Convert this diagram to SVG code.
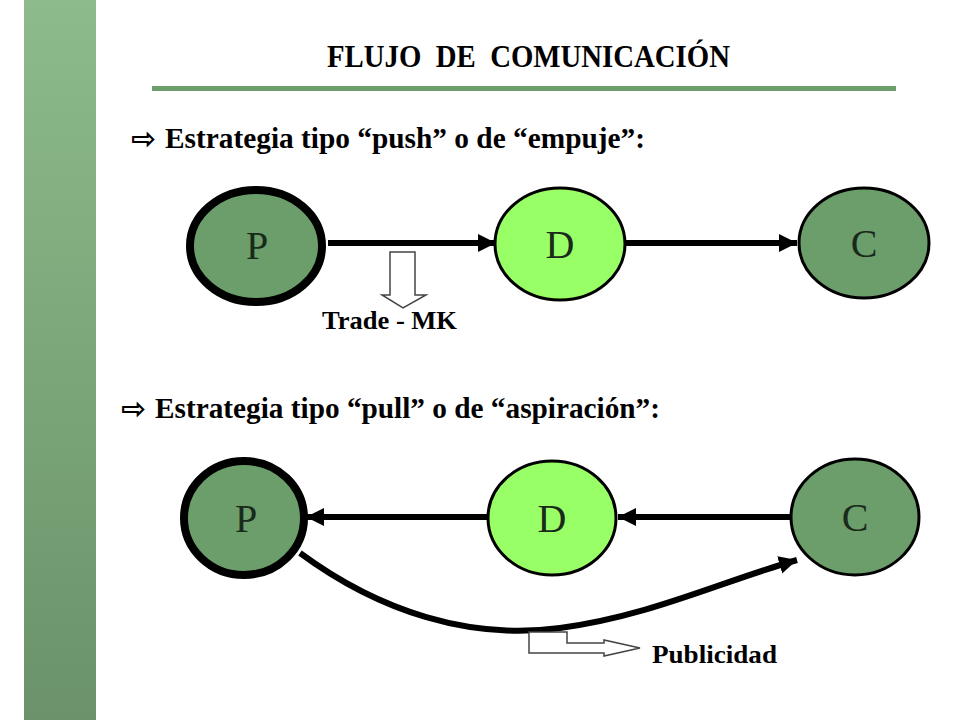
<svg xmlns="http://www.w3.org/2000/svg" width="960" height="720" viewBox="0 0 960 720">
<defs>
<linearGradient id="bar" x1="0" y1="0" x2="0" y2="1">
<stop offset="0" stop-color="#8dbb8b"/>
<stop offset="1" stop-color="#6b926a"/>
</linearGradient>
<marker id="ah" markerUnits="userSpaceOnUse" markerWidth="20" markerHeight="20" refX="18" refY="9" orient="auto">
<path d="M0,0 L18,9 L0,18 z" fill="#000"/>
</marker>
<style>
.t{font-family:"Liberation Serif","Times New Roman",serif;font-weight:bold;fill:#000}
.sym{font-family:"DejaVu Sans",sans-serif;font-size:30px;font-weight:bold;fill:#000}
.node{font-family:"Liberation Serif","Times New Roman",serif;font-size:40px;fill:#1a2a1a;text-anchor:middle}
.dk{fill:#6b9e6b;stroke:#000;stroke-width:3}
.dkb{fill:#6b9e6b;stroke:#000;stroke-width:8}
.lt{fill:#99ff66;stroke:#000;stroke-width:3}
.c{stroke:#000;stroke-width:6;fill:none;marker-end:url(#ah)}
.hollow{fill:#fff;stroke:#444;stroke-width:1.5}
</style>
</defs>
<rect width="960" height="720" fill="#fff"/>
<rect x="24" y="0" width="72" height="720" fill="url(#bar)"/>
<text class="t" x="327" y="67" font-size="31" textLength="403" lengthAdjust="spacingAndGlyphs" style="white-space:pre">FLUJO  DE  COMUNICACIÓN</text>
<rect x="152" y="86" width="744" height="5" fill="#6b9e6b"/>

<text class="sym" x="131" y="149">⇨</text>
<text class="t" x="165" y="148" font-size="29" textLength="480" lengthAdjust="spacingAndGlyphs">Estrategia tipo “push” o de “empuje”:</text>

<text class="sym" x="121" y="419">⇨</text>
<text class="t" x="155" y="418" font-size="29" textLength="505" lengthAdjust="spacingAndGlyphs">Estrategia tipo “pull” o de “aspiración”:</text>

<g id="connectors">
<line class="c" x1="328" y1="243" x2="496" y2="243"/>
<line class="c" x1="626" y1="243" x2="797" y2="243"/>
<line class="c" x1="790" y1="517" x2="618" y2="517"/>
<line class="c" x1="487" y1="517" x2="306" y2="517"/>
<path class="c" d="M300,553 C380,612 470,640 560,628 C650,616 720,582 797,560"/>
</g>

<g id="trade-mk">
<path class="hollow" d="M390,252 L415,252 L415,295 L426,295 L403,308 L382,295 L390,295 Z"/>
<text class="t" x="322" y="329" font-size="25" textLength="135" lengthAdjust="spacingAndGlyphs">Trade - MK</text>
</g>

<g id="publicidad">
<path class="hollow" d="M529,632 L567,632 L567,643 L604,643 L604,640 L640,648 L604,656 L604,653 L529,653 Z"/>
<text class="t" x="652" y="663" font-size="25" textLength="125" lengthAdjust="spacingAndGlyphs">Publicidad</text>
</g>

<g id="P1"><ellipse class="dkb" cx="256" cy="246" rx="66" ry="56"/><text class="node" x="257" y="259">P</text></g>
<g id="D1"><ellipse class="lt" cx="560" cy="244" rx="65" ry="56"/><text class="node" x="560" y="258">D</text></g>
<g id="C1"><ellipse class="dk" cx="864" cy="243" rx="65" ry="55"/><text class="node" x="864" y="257">C</text></g>

<g id="P2"><ellipse class="dkb" cx="244" cy="518" rx="60" ry="57"/><text class="node" x="246" y="532">P</text></g>
<g id="D2"><ellipse class="lt" cx="552" cy="518" rx="64" ry="57"/><text class="node" x="552" y="532">D</text></g>
<g id="C2"><ellipse class="dk" cx="855" cy="517" rx="64" ry="58"/><text class="node" x="855" y="531">C</text></g>
</svg>
